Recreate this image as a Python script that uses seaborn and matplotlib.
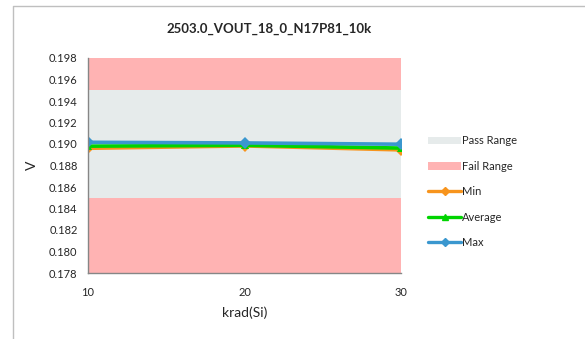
import numpy as np
import pandas as pd
import matplotlib
matplotlib.use("Agg")
import matplotlib.pyplot as plt
import seaborn as sns
from matplotlib.patches import Patch
from matplotlib.lines import Line2D

# data
krad = [10, 20, 30]
v_min = [0.18960, 0.18982, 0.18945]
v_avg = [0.18980, 0.18988, 0.18962]
v_max = [0.19016, 0.19010, 0.18998]
pass_lo, pass_hi = 0.185, 0.195
y_lo, y_hi = 0.178, 0.198
y_ticks = [0.178, 0.180, 0.182, 0.184, 0.186, 0.188, 0.190, 0.192, 0.194, 0.196, 0.198]

df = pd.DataFrame({
    "krad": krad * 3,
    "V": v_min + v_avg + v_max,
    "series": ["Min"] * 3 + ["Average"] * 3 + ["Max"] * 3,
})

sns.set_style("white")
plt.rcParams["font.family"] = ["Lato", "DejaVu Sans"]

colors = {"Min": "#F7941D", "Average": "#00D400", "Max": "#3A97CF"}
markers = {"Min": "D", "Average": "^", "Max": "D"}

fig = plt.figure(figsize=(5.85, 3.39), dpi=100)
ax = fig.add_axes([88 / 585, 1 - 273 / 339, (401 - 88) / 585, (273 - 58) / 339])

# pass / fail bands
ax.fill_between([krad[0], krad[-1]], pass_lo, pass_hi, color="#E6EBEB", lw=0, zorder=0)
ax.fill_between([krad[0], krad[-1]], y_lo, pass_lo, color="#FFB3B3", lw=0, zorder=0)
ax.fill_between([krad[0], krad[-1]], pass_hi, y_hi, color="#FFB3B3", lw=0, zorder=0)

sns.lineplot(data=df, x="krad", y="V", hue="series", style="series",
             palette=colors, markers=markers, dashes=False,
             linewidth=2.6, markersize=6, markeredgewidth=0, ax=ax, legend=False)

ax.set_xlim(krad[0], krad[-1])
ax.set_ylim(y_lo, y_hi)
ax.set_xticks(krad)
ax.set_yticks(y_ticks)
ax.set_yticklabels([f"{t:.3f}" for t in y_ticks])
ax.tick_params(axis="both", labelsize=8, length=4, width=0.8, color="#868686", direction="out")
ax.tick_params(axis="x", pad=6)
for s in ["top", "right"]:
    ax.spines[s].set_visible(False)
for s in ["left", "bottom"]:
    ax.spines[s].set_color("#868686")
    ax.spines[s].set_linewidth(1.0)

ax.set_xlabel("krad(Si)", fontsize=10, labelpad=6)
ax.set_ylabel("V", fontsize=10, labelpad=8)
fig.text(269 / 585, 1 - 29 / 339, "2503.0_VOUT_18_0_N17P81_10k", fontsize=9.5,
         fontweight="bold", ha="center", va="center")

handles = [
    Patch(facecolor="#E6EBEB", edgecolor="none"),
    Patch(facecolor="#FFB3B3", edgecolor="none"),
    Line2D([], [], color=colors["Min"], lw=2.4, marker="D", ms=4),
    Line2D([], [], color=colors["Average"], lw=2.4, marker="^", ms=5),
    Line2D([], [], color=colors["Max"], lw=2.4, marker="D", ms=4),
]
labels = ["Pass Range", "Fail Range", "Min", "Average", "Max"]
fig.legend(handles, labels, loc="upper left", bbox_to_anchor=(424 / 585, 1 - 131 / 339),
           frameon=False, fontsize=8, handlelength=2.9, handletextpad=0.1,
           labelspacing=1.3, borderaxespad=0)

# outer chart border (left and top)
fig.add_artist(Line2D([13 / 585, 13 / 585, 1.0], [0.0, 1 - 6 / 339, 1 - 6 / 339],
                      color="#BFBFBF", lw=1.0, transform=fig.transFigure))

fig.savefig("out.png", dpi=100)
